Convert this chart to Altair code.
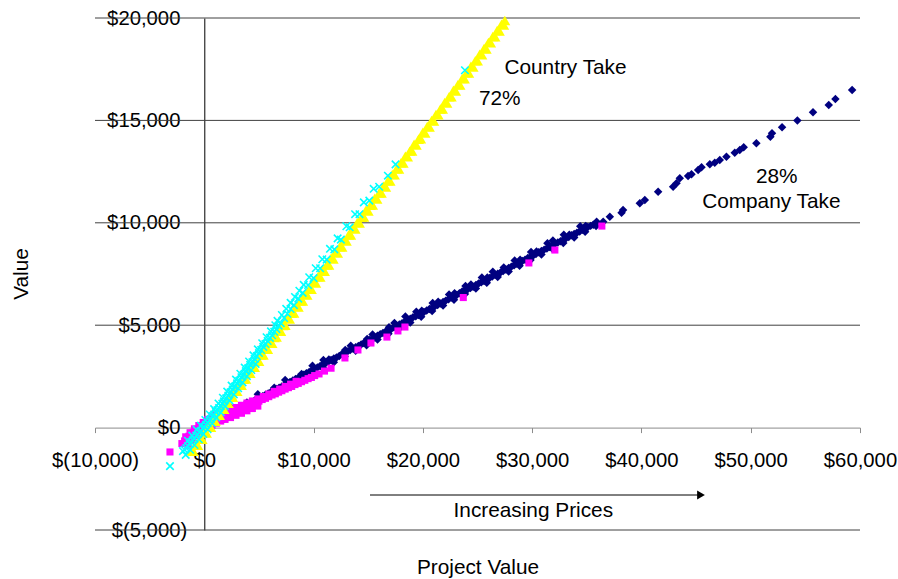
import altair as alt
import pandas as pd

FONT = "Liberation Sans"

# Axis ticks
x_ticks = [-10000, 0, 10000, 20000, 30000, 40000, 50000, 60000]
y_ticks = [-5000, 0, 5000, 10000, 15000, 20000]
grid_values = [-5000, 5000, 10000, 15000, 20000]

# Company take, case A (navy diamonds)
company_a_x = [
    -1500, -900, -400, 100, 600, 1100, 1600, 2100, 2600, 3100, 3600, 4100, 4600, 5100, 5600,
    6100, 6600, 7100, 7600, 8100, 8600, 9100, 9600, 10100, 10600, 11100, 11600, 12100, 12600,
    13100, 13600, 14100, 14600, 15100, 15600, 16100, 16600, 17100, 17600, 18100, 18600, 19100,
    19600, 20100, 20600, 21100, 21600, 22100, 22600, 23100, 23600, 24100, 24600, 25100, 25600,
    26100, 26600, 27100, 27600, 28100, 28600, 29100, 29600, 30100, 30600, 31100, 31600, 32100,
    32600, 33100, 33600, 34100, 34600, 35100, 35600,
    350, 850, 1350, 1850, 2350, 2850, 3350, 3850, 4350, 4850, 5350, 5850, 6350, 6850, 7350,
    7850, 8350, 8850, 9350, 9850, 10350, 10850, 11350, 11850, 12350, 12850, 13350, 13850,
    14350, 14850, 15350, 15850, 16350, 16850, 17350, 17850, 18350, 18850, 19350, 19850,
    20350, 20850, 21350, 21850, 22350, 22850, 23350, 23850, 24350, 24850, 25350, 25850,
    26350, 26850, 27350, 27850, 28350, 28850, 29350, 29850, 30350, 30850, 31350, 31850,
    32350, 32850, 33350, 33850, 34350, 34850, 35350,
    850, 1850, 2850, 3850, 4850, 5850, 6850, 7850, 8850, 9850, 10850, 11850, 12850, 13850,
    14850, 15850, 16850, 17850, 18850, 19850, 20850, 21850, 22850, 23850, 24850, 25850,
    26850, 27850, 28850, 29850, 30850, 31850, 32850, 33850, 34850, 35850,
    1400, 3900, 6400, 8900, 11400, 12900, 14900, 16900, 18400, 19900, 21400, 22900, 24400,
    25900, 27400, 28900, 30400, 31900, 33400, 34900, 35900,
    2400, 4900, 7400, 9900, 10900, 13400, 15400, 17400, 19400, 20900, 22400, 23900, 25400,
    26400, 28400, 29900, 31400, 32900, 34400,
    36500, 37110, 38180, 38320, 39850, 40310, 41530, 42900, 43210, 43510, 44270, 44580, 45190,
    45500, 46260, 46710, 47170, 47780, 48540, 49000, 49360, 50520, 51800, 51950, 52870, 54270,
    55700, 57140, 57750, 59280,
]
company_a_y = [
    -450, -230, -60, 80, 230, 330, 490, 620, 760, 900, 1040, 1170, 1320, 1450, 1600,
    1740, 1880, 2010, 2160, 2300, 2440, 2580, 2720, 2870, 3010, 3140, 3300, 3420, 3590,
    3720, 3860, 3990, 4130, 4280, 4400, 4560, 4690, 4820, 4980, 5100, 5240, 5390,
    5500, 5640, 5790, 5920, 6060, 6200, 6350, 6470, 6640, 6760, 6880, 7040, 7160,
    7300, 7460, 7570, 7720, 7860, 8000, 8130, 8280, 8400, 8560, 8690, 8820, 8980,
    9100, 9240, 9390, 9510, 9660, 9790, 9900,
    170, 280, 420, 560, 700, 840, 960, 1110, 1240, 1390, 1530, 1660, 1800, 1950, 2080,
    2230, 2370, 2500, 2660, 2790, 2930, 3080, 3210, 3370, 3500, 3650, 3790, 3920,
    4060, 4200, 4330, 4480, 4620, 4760, 4900, 5040, 5170, 5320, 5440, 5580,
    5720, 5850, 5990, 6130, 6270, 6410, 6560, 6690, 6820, 6960, 7100, 7230,
    7380, 7510, 7650, 7790, 7930, 8060, 8200, 8340, 8480, 8620, 8750, 8900,
    9040, 9170, 9310, 9450, 9580, 9720, 9850,
    150, 430, 700, 980, 1260, 1530, 1810, 2090, 2360, 2640, 2920, 3190, 3470, 3750,
    4020, 4300, 4580, 4850, 5130, 5410, 5690, 5960, 6240, 6520, 6790, 7070,
    7350, 7620, 7900, 8180, 8450, 8730, 9010, 9280, 9560, 9840,
    560, 1220, 1950, 2620, 3330, 3790, 4330, 4900, 5420, 5700, 6150, 6560, 6990,
    7330, 7820, 8200, 8600, 9130, 9420, 9850, 10050,
    990, 1630, 2330, 3020, 3300, 3995, 4550, 5110, 5660, 6080, 6500, 6910, 7330,
    7610, 8165, 8580, 9000, 9420, 9830,
    10050, 10300, 10490, 10620, 10950, 11110, 11520, 11760, 11930, 12170, 12290, 12370, 12580,
    12710, 12860, 12930, 13070, 13230, 13420, 13550, 13690, 13880, 14200, 14370, 14660, 14990,
    15400, 15750, 16040, 16480,
]

# Company take, case B (magenta squares)
company_b_x = [
    -2050, -1800, -1600, -1400, -1200, -1000, -800, -600, -400, -200, 0, 200, 400, 600, 800,
    1000, 1200, 1400, 1600, 1800, 2000, 2300, 2600, 2900, 3200, 3500, 3800, 4100, 4400, 4700,
    5000, 5300, 5600, 5900, 6200, 6500, 6800, 7100, 7400, 7700, 8000, 8300, 8600, 8900, 9200,
    9500, 9800, 10100, 10500, 11000, 11600, 12870, 14060, 15250, 16710, 17720, 18360, 23700,
    29700, 32080, 36380, -3140,
    -1700, -1300, -900, -500, -100, 300, 700, 1100, 1500, 1900, 2400, 2900, 3400, 3900, 4400,
    4900, 5400, 5900, 6400, 6900, 7400, 7900, 8400,
    -1500, -1100, -700, -300, 300, 700, 1100, 1500, 1900, 2400, 2900, 3400, 3900, 4400, 4900,
]
company_b_y = [
    -780, -650, -560, -420, -350, -230, -180, -80, -10, 60, 120, 170, 240, 260, 330,
    350, 400, 430, 480, 510, 560, 620, 700, 770, 850, 920, 1000, 1080, 1140, 1230,
    1290, 1370, 1430, 1510, 1590, 1650, 1730, 1800, 1880, 1950, 2010, 2100, 2160, 2240, 2310,
    2390, 2450, 2540, 2620, 2760, 2900, 3400, 3790, 4130, 4420, 4720, 4910, 6350,
    8040, 8670, 9840, -1190,
    -450, -250, -60, 100, 250, 400, 520, 620, 700, 780, 880, 980, 1090, 1200, 1300,
    1400, 1520, 1640, 1770, 1880, 2010, 2120, 2260,
    -880, -640, -400, -210, 20, 110, 220, 320, 400, 490, 600, 700, 820, 930, 1050,
]

# Country take, case A (yellow triangles)
country_a_x = [
    -1200, -800, -400, 0, 400, 800, 1200, 1600, 2000, 2400, 2800, 3200, 3600, 4000, 4400,
    4800, 5200, 5600, 6000, 6400, 6800, 7200, 7600, 8000, 8400, 8800, 9200, 9600, 10000,
    10400, 10800, 11200, 11600, 12000, 12400, 12800, 13200, 13600, 14000, 14400, 14800,
    15200, 15600, 16000, 16400, 16800, 17200, 17600, 18000, 18400, 18800, 19200, 19600,
    20000, 20400, 20800, 21200, 21600, 22000, 22400, 22800, 23200, 23600, 24000, 24400,
    24800, 25200, 25600, 26000, 26400, 26800, 27200, 27500,
    -1000, -600, -200, 200, 600, 1000, 1400, 1800, 2200, 2600, 3000, 3400, 3800, 4200,
    4600, 5000, 5400, 5800, 6200, 6600, 7000, 7400, 7800, 8200, 8600, 9000, 9400, 9800,
    10200, 10600, 11000, 11400, 11800, 12200, 12600, 13000, 13400, 13800, 14200, 14600,
    15000, 15400, 15800, 16200, 16600, 17000, 17400, 17800, 18200, 18600, 19000, 19400,
    19800, 20200, 20600, 21000, 21400, 21800, 22200, 22600, 23000, 23400, 23800, 24200,
    24600, 25000, 25400, 25800, 26200, 26600, 27000, 27400,
]
country_a_y = [
    -1130, -820, -560, -240, 40, 320, 610, 920, 1190, 1520, 1790, 2100, 2360, 2690, 2950,
    3290, 3550, 3840, 4150, 4400, 4740, 4990, 5340, 5580, 5910, 6180, 6500, 6760, 7100,
    7360, 7690, 7940, 8270, 8560, 8830, 9150, 9400, 9730, 10010, 10270, 10620,
    10860, 11200, 11460, 11780, 12050, 12360, 12640, 12930, 13250, 13500, 13830, 14080,
    14420, 14700, 14990, 15290, 15560, 15880, 16150, 16470, 16740, 17050, 17330, 17640,
    17910, 18230, 18510, 18810, 19100, 19390, 19690, 19880,
    -1150, -860, -570, -270, 20, 310, 600, 900, 1190, 1480, 1780, 2070, 2370, 2650,
    2950, 3240, 3540, 3830, 4120, 4420, 4710, 5000, 5300, 5590, 5890, 6180, 6470, 6760,
    7060, 7350, 7640, 7940, 8230, 8520, 8820, 9110, 9400, 9700, 9990, 10280,
    10580, 10870, 11160, 11460, 11750, 12040, 12340, 12630, 12920, 13220, 13510, 13800,
    14100, 14390, 14680, 14970, 15270, 15560, 15850, 16150, 16440, 16730, 17030, 17320,
    17610, 17910, 18200, 18490, 18790, 19080, 19370, 19660,
]

# Country take, case B (cyan crosses)
country_b_x = [
    -1950, -1800, -1650, -1500, -1350, -1200, -1050, -900, -750, -600, -450, -300, -150, 0,
    150, 300, 450, 600, 750, 900, 1050, 1200, 1350, 1500, 1650, 1800,
    2000, 2200, 2400, 2600, 2800, 3000, 3200, 3400, 3600, 3800, 4000, 4200, 4400, 4600, 4800,
    5000, 5200, 5400, 5600, 5800, 6000, 6200, 6400, 6600, 6800, 7000,
    7300, 7600, 7900, 8200, 8600, 9000, 9500, 10000, 10600, 11200, 11900, 12500, 13300, 14200,
    15100, 16000, 16800, 17500, 23850, -3140,
    -1700, -1300, -900, -500, -100, 300, 700, 1100, 1500, 1900, 2300, 2700, 3100, 3500, 3900,
    4300, 4700,
    -1500, -1100, -700, -300, 100, 500, 900, 1300, 1700, 2100, 2500, 2900, 3300, 3700, 4100,
    4500, 4900, 5300, 5700, 6100, 6500,
    6700, 7100, 7500, 7900, 8300, 8700, 9100, 9600, 10200, 10800, 11500, 12200, 13000, 13800,
    14600, 15500,
]
country_b_y = [
    -1150, -1080, -1000, -900, -800, -700, -620, -540, -400, -330, -220, -160, -40, 40,
    140, 230, 350, 420, 560, 640, 760, 850, 960, 1060, 1170, 1280,
    1430, 1560, 1720, 1860, 2000, 2160, 2290, 2460, 2580, 2760, 2890, 3060, 3190, 3350, 3490,
    3640, 3790, 3940, 4080, 4230, 4380, 4510, 4680, 4810, 4980, 5100,
    5350, 5560, 5790, 5980, 6300, 6580, 6960, 7300, 7780, 8200, 8700, 9180, 9780, 10420,
    11080, 11760, 12300, 12850, 17450, -1880,
    -1330, -1080, -850, -570, -310, -80, 210, 490, 750, 1050, 1330, 1620, 1920, 2210, 2510,
    2810, 3110,
    -640, -390, -110, 100, 370, 640, 900, 1180, 1460, 1760, 2050, 2340, 2630, 2930, 3230,
    3530, 3820, 4120, 4410, 4700, 5000,
    5210, 5500, 5800, 6090, 6380, 6680, 6970, 7340, 7780, 8220, 8730, 9240, 9830, 10420,
    11000, 11660,
]

# Text annotations: label, x/y pixel position inside the plot area
notes = [
    ("Country Take", 470.5, 56),
    ("72%", 404.7, 87),
    ("28%", 681.7, 165.3),
    ("Company Take", 676.3, 190.2),
    ("Increasing Prices", 438.3, 498.6),
]


def series_frame(name, xs, ys):
    return pd.DataFrame({"x": xs, "y": ys, "s": name})


points = pd.concat([
    series_frame("company_a", company_a_x, company_a_y),
    series_frame("company_b", company_b_x, company_b_y),
    series_frame("country_a", country_a_x, country_a_y),
    series_frame("country_b", country_b_x, country_b_y),
], ignore_index=True)

x_scale = alt.Scale(domain=[-10000, 60000], nice=False, zero=False)
y_scale = alt.Scale(domain=[-5000, 20000], nice=False, zero=False)

neg = "datum.value < 0 ? '$(' + format(-datum.value, ',') + ')' : "

x_axis = alt.Axis(
    values=x_ticks, labelExpr=neg + "'$' + format(datum.value, ',')",
    grid=False, offset=-102.4, domainColor="#8c8c8c", tickColor="#8c8c8c",
    tickSize=5, labelPadding=18, labelFontSize=20.3, labelColor="black",
    labelFont=FONT, labelFlush=False, labelOverlap=False,
    title="Project Value", titleFont=FONT, titleFontSize=20.8, titleFontWeight="normal",
    titleColor="black", titleY=146, titleBaseline="alphabetic",
)
# positive labels keep a blank the width of ")" so the digits line up
y_axis = alt.Axis(
    values=y_ticks,
    labelExpr=neg + "'$' + format(datum.value, ',') + '\u2004\u200b'",
    grid=False, offset=-109.3, domainColor="black", ticks=False, tickSize=0,
    labelPadding=17.6, labelFontSize=20.3, labelColor="black", labelFont=FONT,
    labelFlush=False, labelOverlap=False,
    title="Value", titleFont=FONT, titleFontSize=20.8, titleFontWeight="normal",
    titleColor="black", titleX=-176.8, titleY=255.5, titleAngle=270,
    titleAlign="center", titleBaseline="alphabetic",
)

grid = alt.Chart(pd.DataFrame({"y": grid_values})).mark_rule(
    color="#404040", strokeWidth=1
).encode(
    y=alt.Y("y:Q", scale=y_scale, axis=y_axis),
    x=alt.value(0),
    x2=alt.value(765),
)

base = alt.Chart(points).encode(
    x=alt.X("x:Q", scale=x_scale, axis=x_axis),
    y=alt.Y("y:Q", scale=y_scale, axis=y_axis),
)

company_a = base.transform_filter(alt.datum.s == "company_a").mark_point(
    shape="diamond", filled=True, size=72, color="#000080", opacity=1
)
company_b = base.transform_filter(alt.datum.s == "company_b").mark_point(
    shape="square", filled=True, size=50, color="#FF00FF", opacity=1
)
country_a = base.transform_filter(alt.datum.s == "country_a").mark_point(
    shape="triangle-up", filled=True, size=120, color="#FFFF00", opacity=1
)
country_b = base.transform_filter(alt.datum.s == "country_b").mark_point(
    shape="M-1,-1L1,1M-1,1L1,-1", filled=False, size=56, color="#00FFFF",
    strokeWidth=1.6, opacity=1
)

one = pd.DataFrame({"k": [0]})
note_layers = [
    alt.Chart(pd.DataFrame({"label": [t]})).mark_text(
        font=FONT, fontSize=20.8, align="center", baseline="alphabetic", color="black"
    ).encode(x=alt.value(px), y=alt.value(py), text="label:N")
    for t, px, py in notes
]

arrow_line = alt.Chart(one).mark_rule(color="black", strokeWidth=1).encode(
    x=alt.value(275), x2=alt.value(603), y=alt.value(477)
)
arrow_head = alt.Chart(one).mark_point(
    shape="triangle-right", filled=True, size=80, color="black", opacity=1
).encode(x=alt.value(606), y=alt.value(477))

chart = alt.layer(
    grid, company_a, company_b, country_a, country_b, arrow_line, arrow_head, *note_layers
).properties(
    width=765,
    height=512,
    padding={"left": 95, "top": 18, "right": 38, "bottom": 49},
    autosize=alt.AutoSizeParams(type="none"),
    background="white",
).configure(font=FONT).configure_view(stroke=None)

chart.save("out.html", embed_options={"renderer": "svg", "actions": False})
